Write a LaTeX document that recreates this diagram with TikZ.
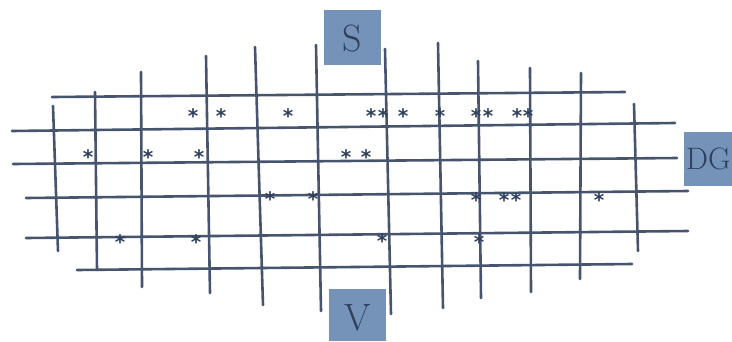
\documentclass[tikz,border=0pt]{standalone}
\usepackage{fontspec}
\newfontfamily\starfont{DejaVu Sans}
\definecolor{gridc}{HTML}{46546D}
\definecolor{boxc}{HTML}{7593B9}
\definecolor{txtc}{HTML}{2F3F5C}
\tikzset{
  gline/.style={draw=gridc, line width=2.6pt, line cap=round},
  lbl/.style={text=txtc, font=\fontsize{38}{40}\selectfont},
  starnode/.style={text=txtc, inner sep=0pt, anchor=base, font=\starfont\bfseries\fontsize{20}{21}\selectfont}
}
\begin{document}
\begin{tikzpicture}[x=1pt,y=-1pt]
\useasboundingbox (0,0) rectangle (732,341);
% horizontal lines
\draw[gline] (52,97) -- (625,92);
\draw[gline] (12,131) -- (675,123);
\draw[gline] (13,164) -- (677,158);
\draw[gline] (26,198) -- (688,191);
\draw[gline] (26,238) -- (688,231);
\draw[gline] (77,270) -- (632,264);
% vertical lines
\draw[gline] (53,106) -- (58,251);
\draw[gline] (95,92) -- (97,270);
\draw[gline] (141,72) -- (142,287);
\draw[gline] (206,56) -- (210,293);
\draw[gline] (255,47) -- (263,305);
\draw[gline] (316,45) -- (321,311);
\draw[gline] (385,49) -- (391,314);
\draw[gline] (438,43) -- (443,308);
\draw[gline] (478,61) -- (481,298);
\draw[gline] (530,68) -- (531,292);
\draw[gline] (581,73) -- (580,279);
\draw[gline] (634,104) -- (638,251);
% boxes
\fill[boxc] (324,10) rectangle (381,65);
\node[lbl] (S) at (352.5,39) {S};
\fill[boxc] (329,289) rectangle (386,341);
\node[lbl] (V) at (357.5,318) {V};
\fill[boxc] (684,132) rectangle (732,186);
\node[lbl, font=\fontsize{31}{33}\selectfont, anchor=west, inner sep=0pt] (DG) at (686,159) {DG};
% stars
\foreach \x/\y [count=\i] in {193/112,221/112,288/112,371/112,383/112,403/112,440/112,476/112,488/112,517/112,528/112,
  88/153,148/153,199/153,346/153,366/153,
  270/195,313/195,476/196,504/196,516/196,599/196,
  120/238,196/238,382/237,479/238}
  \node[starnode] (st\i) at (\x,\y+11) {*};
\end{tikzpicture}
\end{document}
